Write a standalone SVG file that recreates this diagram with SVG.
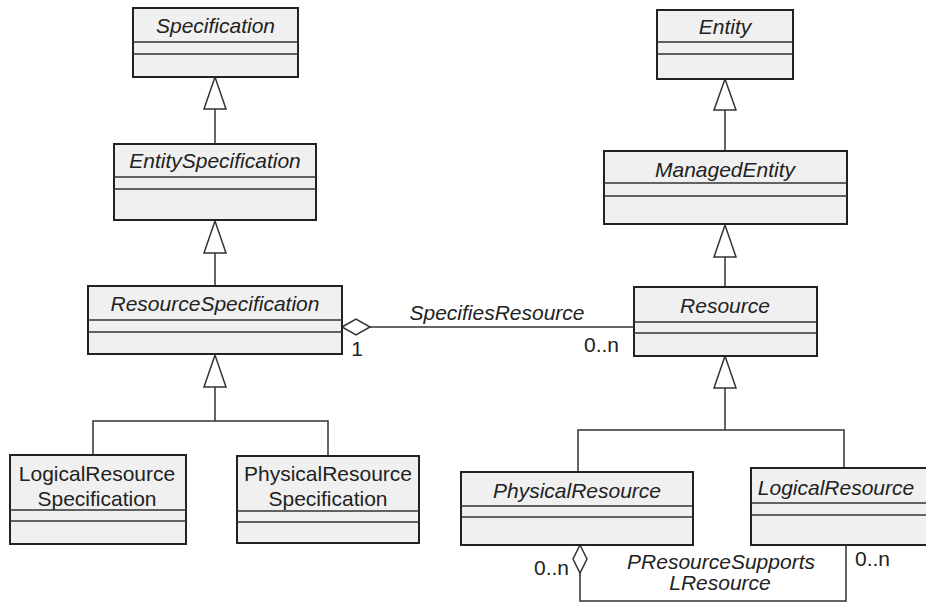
<svg xmlns="http://www.w3.org/2000/svg" width="926" height="603" viewBox="0 0 926 603">
  <style>
    .box { fill: #f0f0f0; stroke: #222; stroke-width: 2; }
    .sep { stroke: #333; stroke-width: 1.5; }
    .name { font-family: "Liberation Sans", Arial, sans-serif; font-size: 21px; fill: #222; text-anchor: middle; }
    .abstract { font-style: italic; }
    .lbl { font-family: "Liberation Sans", Arial, sans-serif; font-size: 21px; fill: #222; }
    .line { fill: none; stroke: #333; stroke-width: 1.5; }
    .tri { fill: #fff; stroke: #333; stroke-width: 1.5; }
  </style>

  <!-- connectors -->
  <g id="connectors">
    <!-- Specification <- EntitySpecification -->
    <line class="line" x1="215" y1="109" x2="215" y2="144"/>
    <polygon class="tri" points="215,77 204,109 226,109"/>
    <!-- EntitySpecification <- ResourceSpecification -->
    <line class="line" x1="215" y1="253" x2="215" y2="286"/>
    <polygon class="tri" points="215,221 204,253 226,253"/>
    <!-- ResourceSpecification <- Logical/Physical ResourceSpecification -->
    <polyline class="line" points="93,455 93,421 328,421 328,455"/>
    <line class="line" x1="215" y1="387" x2="215" y2="421"/>
    <polygon class="tri" points="215,355 204,387 226,387"/>

    <!-- Entity <- ManagedEntity -->
    <line class="line" x1="725" y1="110" x2="725" y2="151"/>
    <polygon class="tri" points="725,79 714,110 736,110"/>
    <!-- ManagedEntity <- Resource -->
    <line class="line" x1="725" y1="257" x2="725" y2="287"/>
    <polygon class="tri" points="725,225 714,257 736,257"/>
    <!-- Resource <- PhysicalResource / LogicalResource -->
    <polyline class="line" points="578,472 578,430 844,430 844,468"/>
    <line class="line" x1="725" y1="388" x2="725" y2="430"/>
    <polygon class="tri" points="725,356 714,388 736,388"/>

    <!-- SpecifiesResource aggregation -->
    <line class="line" x1="370" y1="327" x2="634" y2="327"/>
    <polygon class="tri" points="342,327 356,319 370,327 356,335"/>
    <text class="lbl abstract" x="497" y="320" text-anchor="middle">SpecifiesResource</text>
    <text class="lbl" x="357" y="356" text-anchor="middle">1</text>
    <text class="lbl" x="619" y="352" text-anchor="end">0..n</text>

    <!-- PResourceSupportsLResource aggregation -->
    <polyline class="line" points="580,573 580,601 846,601 846,545"/>
    <polygon class="tri" points="580,545 587,559 580,573 573,559"/>
    <text class="lbl" x="569" y="575" text-anchor="end">0..n</text>
    <text class="lbl" x="855" y="566">0..n</text>
    <text class="lbl abstract" x="721" y="569" text-anchor="middle">PResourceSupports</text>
    <text class="lbl abstract" x="720" y="590" text-anchor="middle">LResource</text>
  </g>

  <g id="Specification">
    <rect class="box" x="133" y="8" width="165" height="69"/>
    <line class="sep" x1="133" y1="42" x2="298" y2="42"/>
    <line class="sep" x1="133" y1="54" x2="298" y2="54"/>
    <text class="name abstract" x="215.5" y="33">Specification</text>
  </g>

  <g id="EntitySpecification">
    <rect class="box" x="114" y="144" width="202" height="76"/>
    <line class="sep" x1="114" y1="177" x2="316" y2="177"/>
    <line class="sep" x1="114" y1="189" x2="316" y2="189"/>
    <text class="name abstract" x="215" y="168">EntitySpecification</text>
  </g>

  <g id="ResourceSpecification">
    <rect class="box" x="88" y="286" width="254" height="68"/>
    <line class="sep" x1="88" y1="320" x2="342" y2="320"/>
    <line class="sep" x1="88" y1="332" x2="342" y2="332"/>
    <text class="name abstract" x="215" y="311">ResourceSpecification</text>
  </g>

  <g id="LogicalResourceSpecification">
    <rect class="box" x="10" y="455" width="176" height="89"/>
    <line class="sep" x1="10" y1="510" x2="186" y2="510"/>
    <line class="sep" x1="10" y1="521" x2="186" y2="521"/>
    <text class="name" x="97" y="481">LogicalResource</text>
    <text class="name" x="97" y="506">Specification</text>
  </g>

  <g id="PhysicalResourceSpecification">
    <rect class="box" x="237" y="456" width="182" height="87"/>
    <line class="sep" x1="237" y1="511" x2="419" y2="511"/>
    <line class="sep" x1="237" y1="522" x2="419" y2="522"/>
    <text class="name" x="328" y="481">PhysicalResource</text>
    <text class="name" x="328" y="506">Specification</text>
  </g>

  <g id="Entity">
    <rect class="box" x="657" y="10" width="136" height="69"/>
    <line class="sep" x1="657" y1="42" x2="793" y2="42"/>
    <line class="sep" x1="657" y1="54" x2="793" y2="54"/>
    <text class="name abstract" x="725" y="34">Entity</text>
  </g>

  <g id="ManagedEntity">
    <rect class="box" x="604" y="151" width="243" height="73"/>
    <line class="sep" x1="604" y1="183" x2="847" y2="183"/>
    <line class="sep" x1="604" y1="196" x2="847" y2="196"/>
    <text class="name abstract" x="725" y="177">ManagedEntity</text>
  </g>

  <g id="Resource">
    <rect class="box" x="634" y="287" width="183" height="69"/>
    <line class="sep" x1="634" y1="322" x2="817" y2="322"/>
    <line class="sep" x1="634" y1="333" x2="817" y2="333"/>
    <text class="name abstract" x="725" y="313">Resource</text>
  </g>

  <g id="PhysicalResource">
    <rect class="box" x="461" y="472" width="232" height="73"/>
    <line class="sep" x1="461" y1="506" x2="693" y2="506"/>
    <line class="sep" x1="461" y1="517" x2="693" y2="517"/>
    <text class="name abstract" x="577" y="498">PhysicalResource</text>
  </g>

  <g id="LogicalResource">
    <rect class="box" x="751" y="468" width="190" height="77"/>
    <line class="sep" x1="751" y1="503" x2="941" y2="503"/>
    <line class="sep" x1="751" y1="515" x2="941" y2="515"/>
    <text class="name abstract" x="836" y="495">LogicalResource</text>
  </g>
</svg>
